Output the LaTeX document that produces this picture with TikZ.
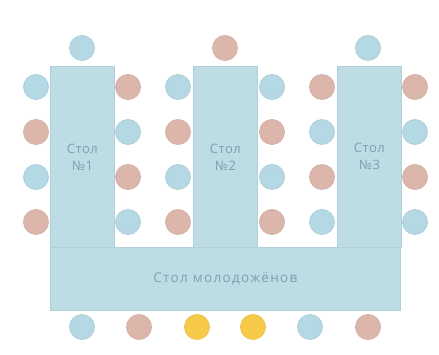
\documentclass[tikz,border=0pt]{standalone}
\usepackage{fontspec}
\setmainfont{Open Sans}
\newfontfamily\plantext[LetterSpace=4]{Open Sans}
\newfontfamily\wideplantext[LetterSpace=10]{Open Sans}
\usetikzlibrary{positioning}
\definecolor{tablefill}{RGB}{190,220,228}
\definecolor{tableline}{RGB}{176,208,218}
\definecolor{seatblue}{RGB}{180,216,228}
\definecolor{seatpink}{RGB}{220,182,170}
\definecolor{seatgold}{RGB}{246,202,72}
\definecolor{labeltext}{RGB}{122,162,176}
\tikzset{
  tablebox/.style={draw=tableline, fill=tablefill, line width=0.7pt,
    text=labeltext, font=\plantext\fontsize{13}{17}\selectfont,
    align=center, inner sep=0pt, anchor=north west},
  seat/.style={circle, minimum size=25pt, inner sep=0pt, line width=0.8pt},
}
\newcommand{\chairpt}[3]{%
  \node[seat, fill=seat#2, draw=seat#2!90!gray] (#1) at #3 {};
}

\begin{document}
\begin{tikzpicture}[x=1pt, y=-1pt]
    \useasboundingbox (0,0) rectangle (439,355);
    % tables
    \node[tablebox, minimum width=350pt, minimum height=63pt,
      font=\wideplantext\fontsize{13.5}{17}\selectfont] (newlyweds) at (50,247)
      {Стол молодожёнов};
    \foreach \x/\n in {50/1, 193/2, 337/3} {
      \node[tablebox, minimum width=64pt, minimum height=181pt] (table\n) at (\x,66)
        {Стол\\№\n};
    }
    % head seats
    \chairpt{head1}{blue}{(82,48)}
    \chairpt{head2}{pink}{(225,48)}
    \chairpt{head3}{blue}{(368,48)}
    % side seats
    \foreach \x/\a/\b/\c/\d [count=\k] in
      {36/blue/pink/blue/pink, 128/pink/blue/pink/blue,
       178/blue/pink/blue/pink, 272/blue/pink/blue/pink,
       322/pink/blue/pink/blue, 415/pink/blue/pink/blue} {
      \chairpt{side\k a}{\a}{(\x,87)}
      \chairpt{side\k b}{\b}{(\x,132)}
      \chairpt{side\k c}{\c}{(\x,177)}
      \chairpt{side\k d}{\d}{(\x,222)}
    }
    % front seats
    \foreach \x/\c [count=\k] in
      {82/blue, 139/pink, 197/gold, 253/gold, 310/blue, 368/pink} {
      \chairpt{front\k}{\c}{(\x,327)}
    }
  \end{tikzpicture}
\end{document}
